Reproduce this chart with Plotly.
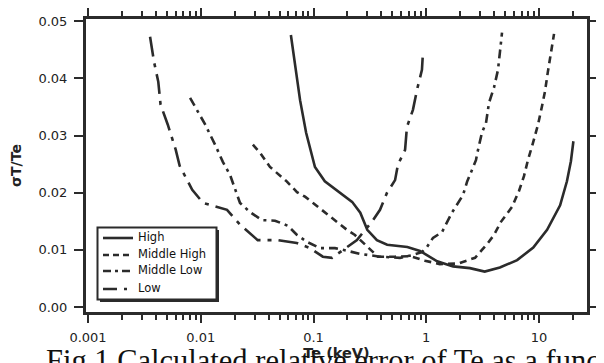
import plotly.graph_objects as go

# ---- data ----
high_te = [0.063, 0.076, 0.086, 0.103, 0.126, 0.172, 0.22, 0.26, 0.30, 0.365, 0.45, 0.68, 0.88,
           1.25, 1.73, 2.44, 3.3, 4.5, 6.4, 8.9, 11.8, 15.4, 17.7, 19.2, 20.2]
high_err = [0.0476, 0.0362, 0.0305, 0.0245, 0.0220, 0.0200, 0.0184, 0.0165, 0.0135, 0.0117, 0.0109, 0.0105, 0.0098,
            0.0080, 0.0071, 0.0068, 0.0062, 0.0069, 0.0082, 0.0104, 0.0135, 0.0178, 0.0220, 0.0255, 0.0290]

mh_te = [0.029, 0.0335, 0.0411, 0.057, 0.0714, 0.0841, 0.0991, 0.119, 0.140, 0.165, 0.198, 0.233, 0.275, 0.317,
         0.373, 0.529, 0.718, 0.975, 1.32, 1.91, 2.71, 3.12, 3.46, 3.99, 4.60, 5.76, 6.65, 7.36, 7.98, 8.85,
         9.8, 10.6, 11.3, 12.0, 13.0, 13.6]
mh_err = [0.0284, 0.0270, 0.0245, 0.0221, 0.0201, 0.0193, 0.0182, 0.0170, 0.0158, 0.0147, 0.0135, 0.0126, 0.0112, 0.0100,
          0.0088, 0.0088, 0.0089, 0.0081, 0.0075, 0.0076, 0.0086, 0.0100, 0.0110, 0.0126, 0.0149, 0.0175, 0.0203, 0.0229, 0.0257, 0.0287,
          0.0319, 0.0350, 0.0377, 0.0412, 0.0450, 0.0478]

ml_te = [0.00804, 0.00946, 0.0109, 0.0134, 0.0157, 0.0182, 0.0201, 0.0223, 0.0274, 0.0349, 0.0456, 0.0594, 0.0714,
         0.0875, 0.114, 0.155, 0.202, 0.258, 0.389, 0.585, 0.762, 0.916, 1.016, 1.148, 1.38, 1.53, 1.69, 2.12,
         2.30, 2.55, 2.76, 2.88, 3.12, 3.39, 3.60, 3.99, 4.33, 4.51, 4.70]
ml_err = [0.0366, 0.0340, 0.0320, 0.0284, 0.0254, 0.0231, 0.0205, 0.0182, 0.0166, 0.0152, 0.0151, 0.0142, 0.0126,
          0.0114, 0.0103, 0.0103, 0.0098, 0.0093, 0.0088, 0.0086, 0.0091, 0.0096, 0.0105, 0.0121, 0.0131, 0.0149, 0.0165, 0.0196,
          0.0219, 0.0240, 0.0257, 0.0275, 0.0305, 0.0322, 0.0357, 0.0384, 0.0415, 0.0447, 0.0480]

low_te = [0.00355, 0.00385, 0.0042, 0.0044, 0.0051, 0.0060, 0.0065, 0.0084, 0.0105, 0.0134, 0.0171, 0.0223, 0.032,
          0.0485, 0.071, 0.093, 0.121, 0.146, 0.190, 0.243, 0.287, 0.330, 0.389, 0.449, 0.529, 0.561, 0.649,
          0.674, 0.762, 0.828, 0.916, 0.935]
low_err = [0.0473, 0.0429, 0.0394, 0.0354, 0.0319, 0.0275, 0.0247, 0.0205, 0.0182, 0.0176, 0.0170, 0.0144, 0.0117,
           0.0117, 0.0112, 0.0103, 0.0088, 0.0086, 0.0102, 0.0117, 0.0135, 0.0149, 0.0170, 0.0200, 0.0222, 0.0249, 0.0275,
           0.0315, 0.0345, 0.0380, 0.0415, 0.0445]

series_names = ["High", "Middle High", "Middle Low", "Low"]
x_tickvals = [0.001, 0.01, 0.1, 1, 10]
x_ticktext = ["0.001", "0.01", "0.1", "1", "10"]
y_tickvals = [0.00, 0.01, 0.02, 0.03, 0.04, 0.05]
y_ticktext = ["0.00", "0.01", "0.02", "0.03", "0.04", "0.05"]
caption = "Fig.1 Calculated relative error of Te as a function"

INK = "#2b2b2b"
DASHES = ["solid", "7px,5px", "9px,5px,3px,5px", "20px,7px,4px,7px"]
LEGEND_DASHES = ["solid", "6px,4px", "8px,4px,3px,4px", "14px,7px,3px,7px"]

# The page body has an 8px default margin, so the figure is shrunk by that much
# and every page-pixel position below is shifted by OFF.
OFF = 8
W, H = 604 - OFF, 363 - OFF
L_PX, R_PX, T_PX, B_PX = 86, 587, 19, 312           # plot box in page pixels
ML_, MR_, MT_, MB_ = L_PX - OFF, 604 - R_PX, T_PX - OFF, 363 - B_PX
PW, PH = W - ML_ - MR_, H - MT_ - MB_


def px2paper(px, py):
    return (px - OFF - ML_) / PW, (H - MB_ - (py - OFF)) / PH


fig = go.Figure()
for name, xs, ys, dash in zip(series_names, [high_te, mh_te, ml_te, low_te],
                              [high_err, mh_err, ml_err, low_err], DASHES):
    fig.add_trace(go.Scatter(x=xs, y=ys, mode="lines", name=name, showlegend=False,
                             line=dict(color=INK, width=2.6, dash=dash)))

axis_common = dict(showline=True, linecolor=INK, linewidth=3, mirror="allticks",
                   ticks="outside", tickcolor=INK, tickwidth=2, showgrid=False, zeroline=False,
                   automargin=False,
                   tickfont=dict(family="DejaVu Sans", size=13, color="#222"))

fig.update_xaxes(type="log", range=[-3.018, 1.426], tickvals=x_tickvals, ticktext=x_ticktext,
                 ticklen=8, ticklabelstandoff=3,
                 minor=dict(ticks="outside", ticklen=5, tickwidth=2, tickcolor=INK, dtick="D1", showgrid=False),
                 title=dict(text="<b>Te (keV)</b>", font=dict(family="DejaVu Sans", size=14.5, color="#222"),
                            standoff=0),
                 **axis_common)
fig.update_yaxes(range=[-0.00088, 0.0504], tickvals=y_tickvals, ticktext=y_ticktext, ticklen=9,
                 ticklabelstandoff=4,
                 title=dict(text="<b>σT/Te</b>", font=dict(family="DejaVu Sans", size=14, color="#222"),
                            standoff=17),
                 **axis_common)

# ---- boxed legend drawn like the reference's ----
shapes = []
annotations = []
x0, y0 = px2paper(100, 302)
x1, y1 = px2paper(219, 230)
shapes.append(dict(type="rect", xref="paper", yref="paper", x0=x0, y0=y0, x1=x1, y1=y1,
                   line=dict(width=0), fillcolor=INK, layer="above"))
x0, y0 = px2paper(97.5, 299.5)
x1, y1 = px2paper(216.5, 227.5)
shapes.append(dict(type="rect", xref="paper", yref="paper", x0=x0, y0=y0, x1=x1, y1=y1,
                   line=dict(width=2, color=INK), fillcolor="white", layer="above"))
rows_y = [238, 255, 271, 289]
for name, dash, ry in zip(series_names, LEGEND_DASHES, rows_y):
    lx0, ly = px2paper(103, ry)
    lx1, _ = px2paper(133, ry)
    shapes.append(dict(type="line", xref="paper", yref="paper", x0=lx0, x1=lx1, y0=ly, y1=ly,
                       line=dict(color=INK, width=2.6, dash=dash), layer="above"))
    tx, ty = px2paper(136, ry - 1)
    annotations.append(dict(text=name, xref="paper", yref="paper", x=tx, y=ty,
                            xanchor="left", yanchor="middle", showarrow=False,
                            font=dict(family="DejaVu Sans", size=11.5, color="#111")))

cx, cy = px2paper(44, 342)
annotations.append(dict(text=caption, xref="paper", yref="paper", x=cx, y=cy,
                        xanchor="left", yanchor="top", showarrow=False,
                        font=dict(family="Liberation Serif", size=30.5, color="#111")))

fig.update_layout(
    width=W, height=H,
    margin=dict(l=ML_, r=MR_, t=MT_, b=MB_),
    paper_bgcolor="white", plot_bgcolor="white",
    showlegend=False,
    shapes=shapes,
    annotations=annotations,
)

fig.write_html("out.html")
